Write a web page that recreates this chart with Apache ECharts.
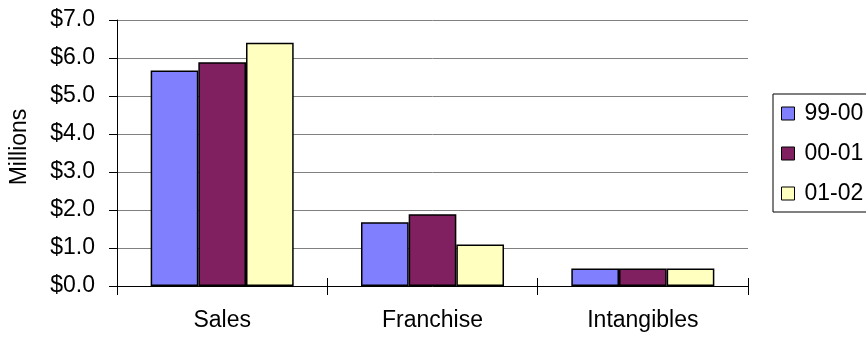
<!DOCTYPE html>
<html>
<head>
<meta charset="utf-8">
<script src="https://cdn.jsdelivr.net/npm/echarts@6/dist/echarts.min.js"></script>
<style>
  html, body { margin: 0; padding: 0; background: #fff; }
  #chart { width: 866px; height: 337px; }
</style>
</head>
<body>
<div id="chart"></div>
<script>
const categories = ['Sales', 'Franchise', 'Intangibles']
const years = ['99-00', '00-01', '01-02']
const values9900 = [5.67, 1.68, 0.46]
const values0001 = [5.89, 1.89, 0.46]
const values0102 = [6.40, 1.09, 0.46]
const colors = ['#8080FF', '#802060', '#FFFFC0']

const font = 'Liberation Sans, Arial, sans-serif'
const fontSize = 23
const seriesData = [values9900, values0001, values0102]

const myChart = echarts.init(document.getElementById('chart'))
myChart.setOption({
  animation: false,
  textStyle: { fontFamily: font },
  grid: { left: 117, right: 118, top: 20, bottom: 51, containLabel: false },
  legend: {
    orient: 'vertical',
    left: 773,
    top: 94,
    data: years,
    itemWidth: 13,
    itemHeight: 13,
    itemGap: 17,
    padding: [8, 40, 7, 8],
    borderColor: '#000',
    borderWidth: 1,
    itemStyle: { borderColor: '#000', borderWidth: 1 },
    textStyle: { fontSize, color: '#000', fontFamily: font, padding: [0, 0, 0, 5] },
    icon: 'rect'
  },
  xAxis: [{
    type: 'category',
    data: categories,
    axisLine: { lineStyle: { color: '#000', width: 1 } },
    axisTick: { show: true, length: 9, lineStyle: { color: '#000' } },
    axisLabel: { fontSize, color: '#000', margin: 23, fontFamily: font }
  }, {
    // inner half of the ticks, so they cross the axis line
    type: 'category',
    data: categories,
    position: 'bottom',
    axisLine: { show: false },
    axisTick: { show: true, inside: true, length: 8, lineStyle: { color: '#000' } },
    axisLabel: { show: false },
    splitLine: { show: false }
  }],
  yAxis: {
    type: 'value',
    min: 0,
    max: 7,
    interval: 1,
    name: 'Millions',
    nameLocation: 'middle',
    nameRotate: 90,
    nameGap: 86,
    nameTextStyle: { fontSize, color: '#000', fontFamily: font, padding: [0, 0, 0, 12] },
    axisLine: { show: true, lineStyle: { color: '#000', width: 1 } },
    axisTick: { show: true, length: 8, lineStyle: { color: '#000' } },
    axisLabel: {
      fontSize,
      color: '#000',
      margin: 22,
      fontFamily: font,
      formatter: v => '$' + v.toFixed(1)
    },
    splitLine: { lineStyle: { color: '#808080', width: 1 } }
  },
  series: years.map((name, i) => ({
    name,
    type: 'bar',
    xAxisIndex: 0,
    data: seriesData[i],
    barGap: '0%',
    barCategoryGap: '32%',
    itemStyle: { color: colors[i], borderColor: '#000', borderWidth: 1.5 }
  }))
})
</script>
</body>
</html>
